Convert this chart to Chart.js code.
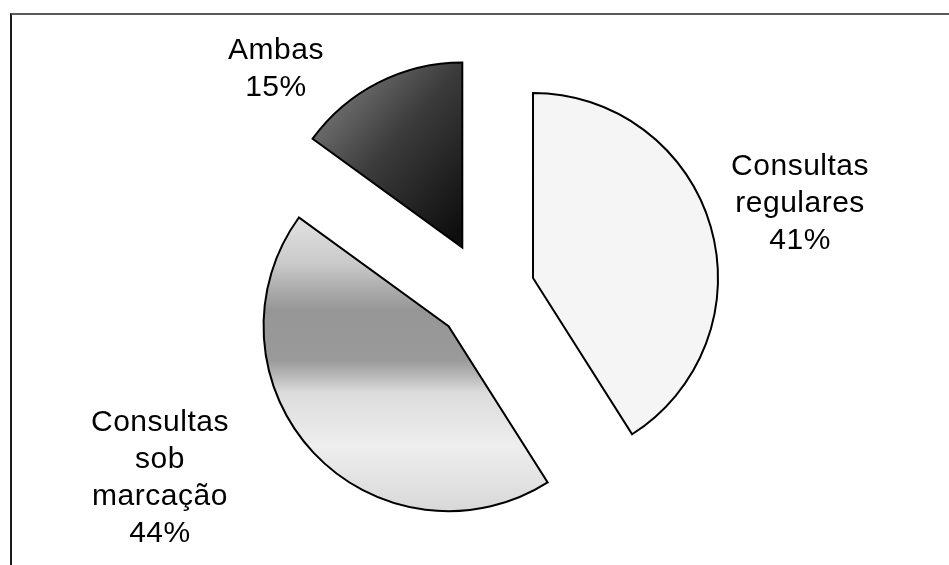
<!DOCTYPE html>
<html>
<head>
<meta charset="utf-8">
<script src="https://cdn.jsdelivr.net/npm/chart.js@4/dist/chart.umd.min.js"></script>
<style>
  html, body { margin: 0; padding: 0; background: #fff; }
  #wrap { position: relative; width: 949px; height: 565px; }
  #frame {
    position: absolute; left: 10px; top: 13px; right: 0; bottom: 0;
    border-top: 2px solid #5a5a5a; border-left: 2px solid #1a1a1a;
    pointer-events: none;
  }
</style>
</head>
<body>
<div id="wrap">
  <canvas id="pie"></canvas>
  <div id="frame"></div>
</div>
<script>
// dados
const CATEGORIES = ['Consultas regulares', 'Consultas sob marcação', 'Ambas'];
const LABEL_LINES = [['Consultas', 'regulares'], ['Consultas', 'sob', 'marcação'], ['Ambas']];
const VALUES = [41, 44, 15];

// aparência
const RADIUS = 185;
const EXPLODE = 50;
const LABEL_POS = [[1.703, -0.489], [-1.757, 0.997], [-1.130, -1.214]]; // em múltiplos do raio
const FONT = '30px "Liberation Sans", Arial, sans-serif';
const LINE_H = 37;
const CAP_H = 21;

function fillFor(context) {
  const i = context.dataIndex;
  const chart = context.chart;
  const area = chart.chartArea;
  const flat = ['#f5f5f5', '#c4c4c4', '#2a2a2a'];
  if (!area) return flat[i];
  const cx = (area.left + area.right) / 2;
  const cy = (area.top + area.bottom) / 2;
  const ctx = chart.ctx;
  if (i === 0) return '#f5f5f5';
  if (i === 1) {
    // faixa cinzenta horizontal em "sob marcação"
    const g = ctx.createLinearGradient(cx, cy - RADIUS, cx, cy + RADIUS);
    g.addColorStop(0.0, '#e8e8e8');
    g.addColorStop(0.205, '#e2e2e2');
    g.addColorStop(0.33, '#cacaca');
    g.addColorStop(0.40, '#acacac');
    g.addColorStop(0.457, '#969696');
    g.addColorStop(0.592, '#9a9a9a');
    g.addColorStop(0.64, '#bdbdbd');
    g.addColorStop(0.68, '#dcdcdc');
    g.addColorStop(0.824, '#eeeeee');
    g.addColorStop(1.0, '#d8d8d8');
    return g;
  }
  // "Ambas": cinzento à esquerda, quase preto junto ao centro
  const g = ctx.createLinearGradient(cx - 150, cy - 150, cx, cy - 20);
  g.addColorStop(0, '#7c7c7c');
  g.addColorStop(0.45, '#3c3c3c');
  g.addColorStop(1, '#0e0e0e');
  return g;
}

// fatias destacadas: desloca cada arco ao longo do ângulo médio
const explodePlugin = {
  id: 'explode',
  beforeDatasetDraw(chart, args) {
    const ctx = chart.ctx;
    args.meta.data.forEach(arc => {
      const mid = (arc.startAngle + arc.endAngle) / 2;
      ctx.save();
      ctx.translate(Math.cos(mid) * EXPLODE, Math.sin(mid) * EXPLODE);
      arc.draw(ctx);
      ctx.restore();
    });
    return false;
  }
};

// rótulos "nome + %"
const labelPlugin = {
  id: 'sliceLabels',
  afterDraw(chart) {
    const ctx = chart.ctx;
    const meta = chart.getDatasetMeta(0);
    const total = VALUES.reduce((a, b) => a + b, 0);
    ctx.save();
    ctx.font = FONT;
    ctx.fillStyle = '#000';
    ctx.textAlign = 'center';
    ctx.textBaseline = 'alphabetic';
    if ('letterSpacing' in ctx) ctx.letterSpacing = '0.5px';
    meta.data.forEach((arc, i) => {
      const lines = LABEL_LINES[i].concat([Math.round(VALUES[i] / total * 100) + '%']);
      const x = arc.x + LABEL_POS[i][0] * arc.outerRadius;
      const y = arc.y + LABEL_POS[i][1] * arc.outerRadius;
      const block = CAP_H + (lines.length - 1) * LINE_H;
      let base = y - block / 2 + CAP_H;
      lines.forEach(t => { ctx.fillText(t, x, base); base += LINE_H; });
    });
    ctx.restore();
  }
};

new Chart(document.getElementById('pie'), {
  type: 'pie',
  data: {
    labels: CATEGORIES,
    datasets: [{
      data: VALUES,
      backgroundColor: fillFor,
      borderColor: '#000',
      borderWidth: 2,
      borderJoinStyle: 'miter',
      radius: RADIUS
    }]
  },
  options: {
    responsive: true,
    maintainAspectRatio: false,
    animation: false,
    radius: RADIUS,
    layout: { padding: { left: 31, right: 10, top: 29, bottom: 10 } },
    plugins: {
      legend: { display: false },
      tooltip: { enabled: false }
    }
  },
  plugins: [explodePlugin, labelPlugin]
});
</script>
</body>
</html>
